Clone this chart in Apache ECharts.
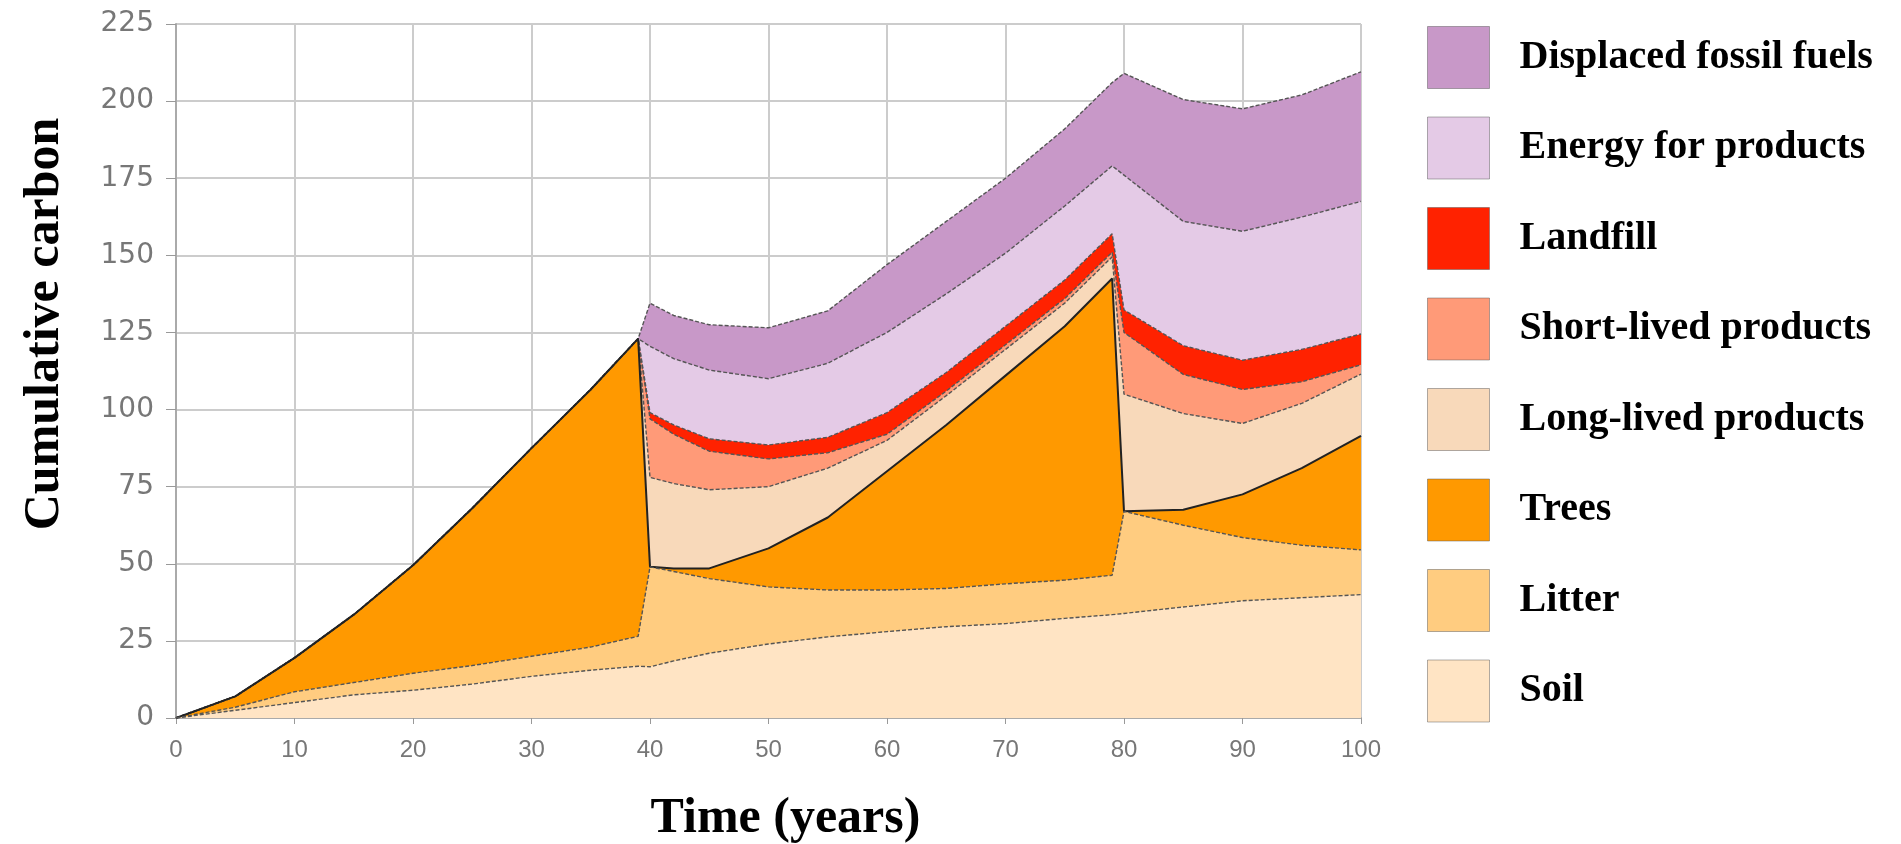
<!DOCTYPE html>
<html>
<head>
<meta charset="utf-8">
<script src="https://cdn.jsdelivr.net/npm/echarts/dist/echarts.min.js"></script>
<style>
html,body{margin:0;padding:0;background:#ffffff;}
#chart{width:1901px;height:844px;}
</style>
</head>
<body>
<div id="chart"></div>
<script>
// Time points (years)
const years = [0,5,10,15,20,25,30,35,39,40,42,45,50,55,60,65,70,75,79,80,85,90,95,100];

// Layer amounts (thickness of each stacked band)
const soil       = [0,2.5,5,7.5,9,11,13.5,15.5,16.8,16.6,18.5,21,24,26.3,28,29.6,30.6,32.3,33.5,33.9,36,38,39,40];
const litter     = [0,1,3.5,4,5.5,6,6.5,7.5,9.7,32.4,29,24.2,18.5,15.2,13.5,12.4,12.9,12.4,12.8,33.1,26.5,20.5,17,14.5];
const trees      = [0,3.5,11,22,35,51,67.5,83.5,96.5,0,1,3.3,12.5,23.5,38.5,53,67.5,82.3,96.2,0,5,14,25,37];
const longLived  = [0,0,0,0,0,0,0,0,0,29,27.5,25.5,20,16,10,9.5,8.5,7.5,7,38,31.2,23,21,20];
const shortLived = [0,0,0,0,0,0,0,0,0,19,16,12.5,9,5,2,1.5,1.5,1.5,1.5,20,12.7,11,7,3];
const landfill   = [0,0,0,0,0,0,0,0,0,2,3,4,4.5,5,7,6,6,6,6,7.3,9.3,9.5,10.5,10];
const energy     = [0,0,0,0,0,0,0,0,0,21.5,21.5,22.3,21.5,24,26,25.5,23.7,24,22,43.7,40.3,41.8,42.9,43];
const displaced  = [0,0,0,0,0,0,0,0,0,14,14,14.7,16.5,17,22,23.5,24.3,25,27,33,39.5,39.7,39.6,42];

const names = ['Soil','Litter','Trees','Long-lived products','Short-lived products','Landfill','Energy for products','Displaced fossil fuels'];
const layers = [soil, litter, trees, longLived, shortLived, landfill, energy, displaced];
const colors = ['#FFE4C4','#FFCC80','#FF9900','#F8D9BA','#FF9A78','#FF2200','#E4CAE6','#C898C8'];

const yTicks = [0,25,50,75,100,125,150,175,200,225];
const xTicks = [0,10,20,30,40,50,60,70,80,90,100];

// cumulative tops of the stack
const tops = [];
let run = years.map(() => 0);
layers.forEach(l => { run = run.map((v, i) => v + l[i]); tops.push(run.slice()); });

const series = [];
for (let k = layers.length - 1; k >= 0; k--) {
  series.push({
    name: names[k],
    type: 'line',
    symbol: 'none',
    smooth: false,
    data: years.map((x, i) => [x, +tops[k][i].toFixed(2)]),
    itemStyle: { color: colors[k] },
    lineStyle: { color: k === 2 ? '#222' : '#555', width: k === 2 ? 2 : 1.4, type: k === 2 ? 'solid' : [4, 2] },
    areaStyle: { color: colors[k], opacity: 1 },
    emphasis: { disabled: true }
  });
}

const chart = echarts.init(document.getElementById('chart'), null, { renderer: 'canvas' });
chart.setOption({
  animation: false,
  backgroundColor: '#ffffff',
  grid: { left: 176, right: 540, top: 24, bottom: 126, containLabel: false, outerBoundsMode: 'none' },
  legend: {
    orient: 'vertical',
    left: 1422,
    top: 21,
    itemWidth: 62,
    itemHeight: 62,
    itemGap: 27.5,
    icon: 'rect',
    data: names.slice().reverse(),
    itemStyle: { borderColor: 'rgba(80,80,80,0.45)', borderWidth: 1 },
    textStyle: { fontFamily: 'Liberation Serif', fontWeight: 'bold', fontSize: 40, color: '#000', padding: [0, 0, 0, 25] }
  },
  xAxis: {
    type: 'value',
    min: 0, max: 100, interval: 10,
    name: 'Time (years)',
    nameLocation: 'middle',
    nameGap: 76,
    nameTextStyle: { fontFamily: 'Liberation Serif', fontWeight: 'bold', fontSize: 50, color: '#000', padding: [0, 0, 0, 34] },
    axisLine: { show: true, lineStyle: { color: '#aaaaaa', width: 2 } },
    axisTick: { show: true, length: 6, lineStyle: { color: '#999' } },
    axisLabel: {
      fontFamily: 'Liberation Sans', fontSize: 24, color: '#777777', margin: 20,
      formatter: v => xTicks.indexOf(v) >= 0 ? String(v) : ''
    },
    splitLine: { show: true, lineStyle: { color: '#cccccc', width: 2 } }
  },
  yAxis: {
    type: 'value',
    min: 0, max: 225, interval: 25,
    name: 'Cumulative carbon',
    nameLocation: 'middle',
    nameGap: 106,
    nameTextStyle: { fontFamily: 'Liberation Serif', fontWeight: 'bold', fontSize: 50, color: '#000', padding: [0, 0, 0, 94] },
    axisLine: { show: true, lineStyle: { color: '#aaaaaa', width: 2 } },
    axisTick: { show: true, length: 10, lineStyle: { color: '#999' } },
    axisLabel: {
      fontFamily: 'DejaVu Sans', fontSize: 28, color: '#777777', margin: 22,
      formatter: v => yTicks.indexOf(v) >= 0 ? String(v) : ''
    },
    splitLine: { show: true, lineStyle: { color: '#cccccc', width: 2 } }
  },
  series: series
});
</script>
</body>
</html>
